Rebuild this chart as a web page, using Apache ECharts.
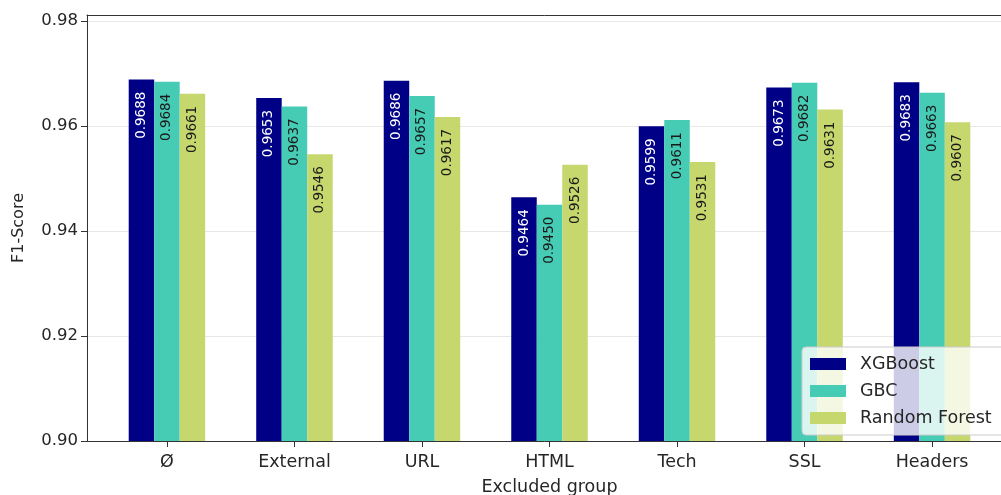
<!DOCTYPE html>
<html>
<head>
<meta charset="utf-8">
<script src="https://cdn.jsdelivr.net/npm/echarts@6/dist/echarts.min.js"></script>
<style>
html,body{margin:0;padding:0;background:#fff;}
#main{width:1001px;height:495px;}
</style>
</head>
<body>
<div id="main"></div>
<script>
// data
var groups=['Ø','External','URL','HTML','Tech','SSL','Headers'];
var xgboost=[0.9688,0.9653,0.9686,0.9464,0.9599,0.9673,0.9683];
var gbc=[0.9684,0.9637,0.9657,0.9450,0.9611,0.9682,0.9663];
var rforest=[0.9661,0.9546,0.9617,0.9526,0.9531,0.9631,0.9607];

var font='DejaVu Sans';
var idx=groups.map(function(g,i){return i;});

function pts(arr){
	return arr.map(function(v,i){return [i,v];});
}
function bar(name,arr,color,txt){
	return {
		name:name,
		type:'bar',
		barWidth:25.5,
		barGap:'0%',
		itemStyle:{color:color},
		label:{
			show:true,
			position:'insideTop',
			distance:12,
			rotate:90,
			align:'right',
			verticalAlign:'middle',
			fontFamily:font,
			fontSize:13.5,
			color:txt,
			formatter:function(p){return p.value[1].toFixed(4);}
		},
		data:pts(arr)
	};
}

var myChart=echarts.init(document.getElementById('main'),null,{renderer:'canvas'});
var option={
	backgroundColor:'#fff',
	animation:false,
	grid:{left:87,right:-11,top:15,bottom:54,outerBoundsMode:'none',containLabel:false},
	legend:{
		orient:'vertical',
		left:802,
		top:347,
		padding:[8,20,8,8],
		icon:'rect',
		itemWidth:36,
		itemHeight:12,
		itemGap:9,
		backgroundColor:'rgba(255,255,255,0.8)',
		borderColor:'#cccccc',
		borderWidth:1,
		borderRadius:4,
		textStyle:{fontFamily:font,fontSize:17.5,color:'#262626',padding:[0,0,0,9]},
		data:['XGBoost','GBC','Random Forest']
	},
	xAxis:[{
		type:'value',
		min:-0.627,
		max:6.627,
		name:'Excluded group',
		nameLocation:'middle',
		nameGap:37,
		nameTextStyle:{fontFamily:font,fontSize:17.5,color:'#262626'},
		axisLine:{show:true,onZero:false,lineStyle:{color:'#333',width:1}},
		axisTick:{show:true,length:6,customValues:idx,lineStyle:{color:'#333'}},
		axisLabel:{
			customValues:idx,
			margin:12,
			fontFamily:font,
			fontSize:17.5,
			color:'#262626',
			formatter:function(v){return groups[Math.round(v)];}
		},
		splitLine:{show:false}
	},{
		type:'value',
		position:'top',
		min:-0.627,
		max:6.627,
		axisLine:{show:true,onZero:false,lineStyle:{color:'#333',width:1}},
		axisTick:{show:false},
		axisLabel:{show:false},
		splitLine:{show:false}
	}],
	yAxis:{
		type:'value',
		min:0.90,
		max:0.9811,
		interval:0.02,
		name:'F1-Score',
		nameLocation:'middle',
		nameGap:60,
		nameTextStyle:{fontFamily:font,fontSize:16,color:'#262626'},
		axisLine:{show:true,onZero:false,lineStyle:{color:'#333',width:1}},
		axisTick:{show:true,length:6,lineStyle:{color:'#333'}},
		axisLabel:{
			margin:9,
			fontFamily:font,
			fontSize:16.5,
			color:'#262626',
			showMaxLabel:false,
			formatter:function(v){return v.toFixed(2);}
		},
		splitLine:{show:true,lineStyle:{color:'#e8e8e8',width:1.2}}
	},
	series:[
		bar('XGBoost',xgboost,'#000086','#ffffff'),
		bar('GBC',gbc,'#46cbb5','#1a1a1a'),
		bar('Random Forest',rforest,'#c6d76e','#1a1a1a')
	]
};
myChart.setOption(option);
</script>
</body>
</html>
